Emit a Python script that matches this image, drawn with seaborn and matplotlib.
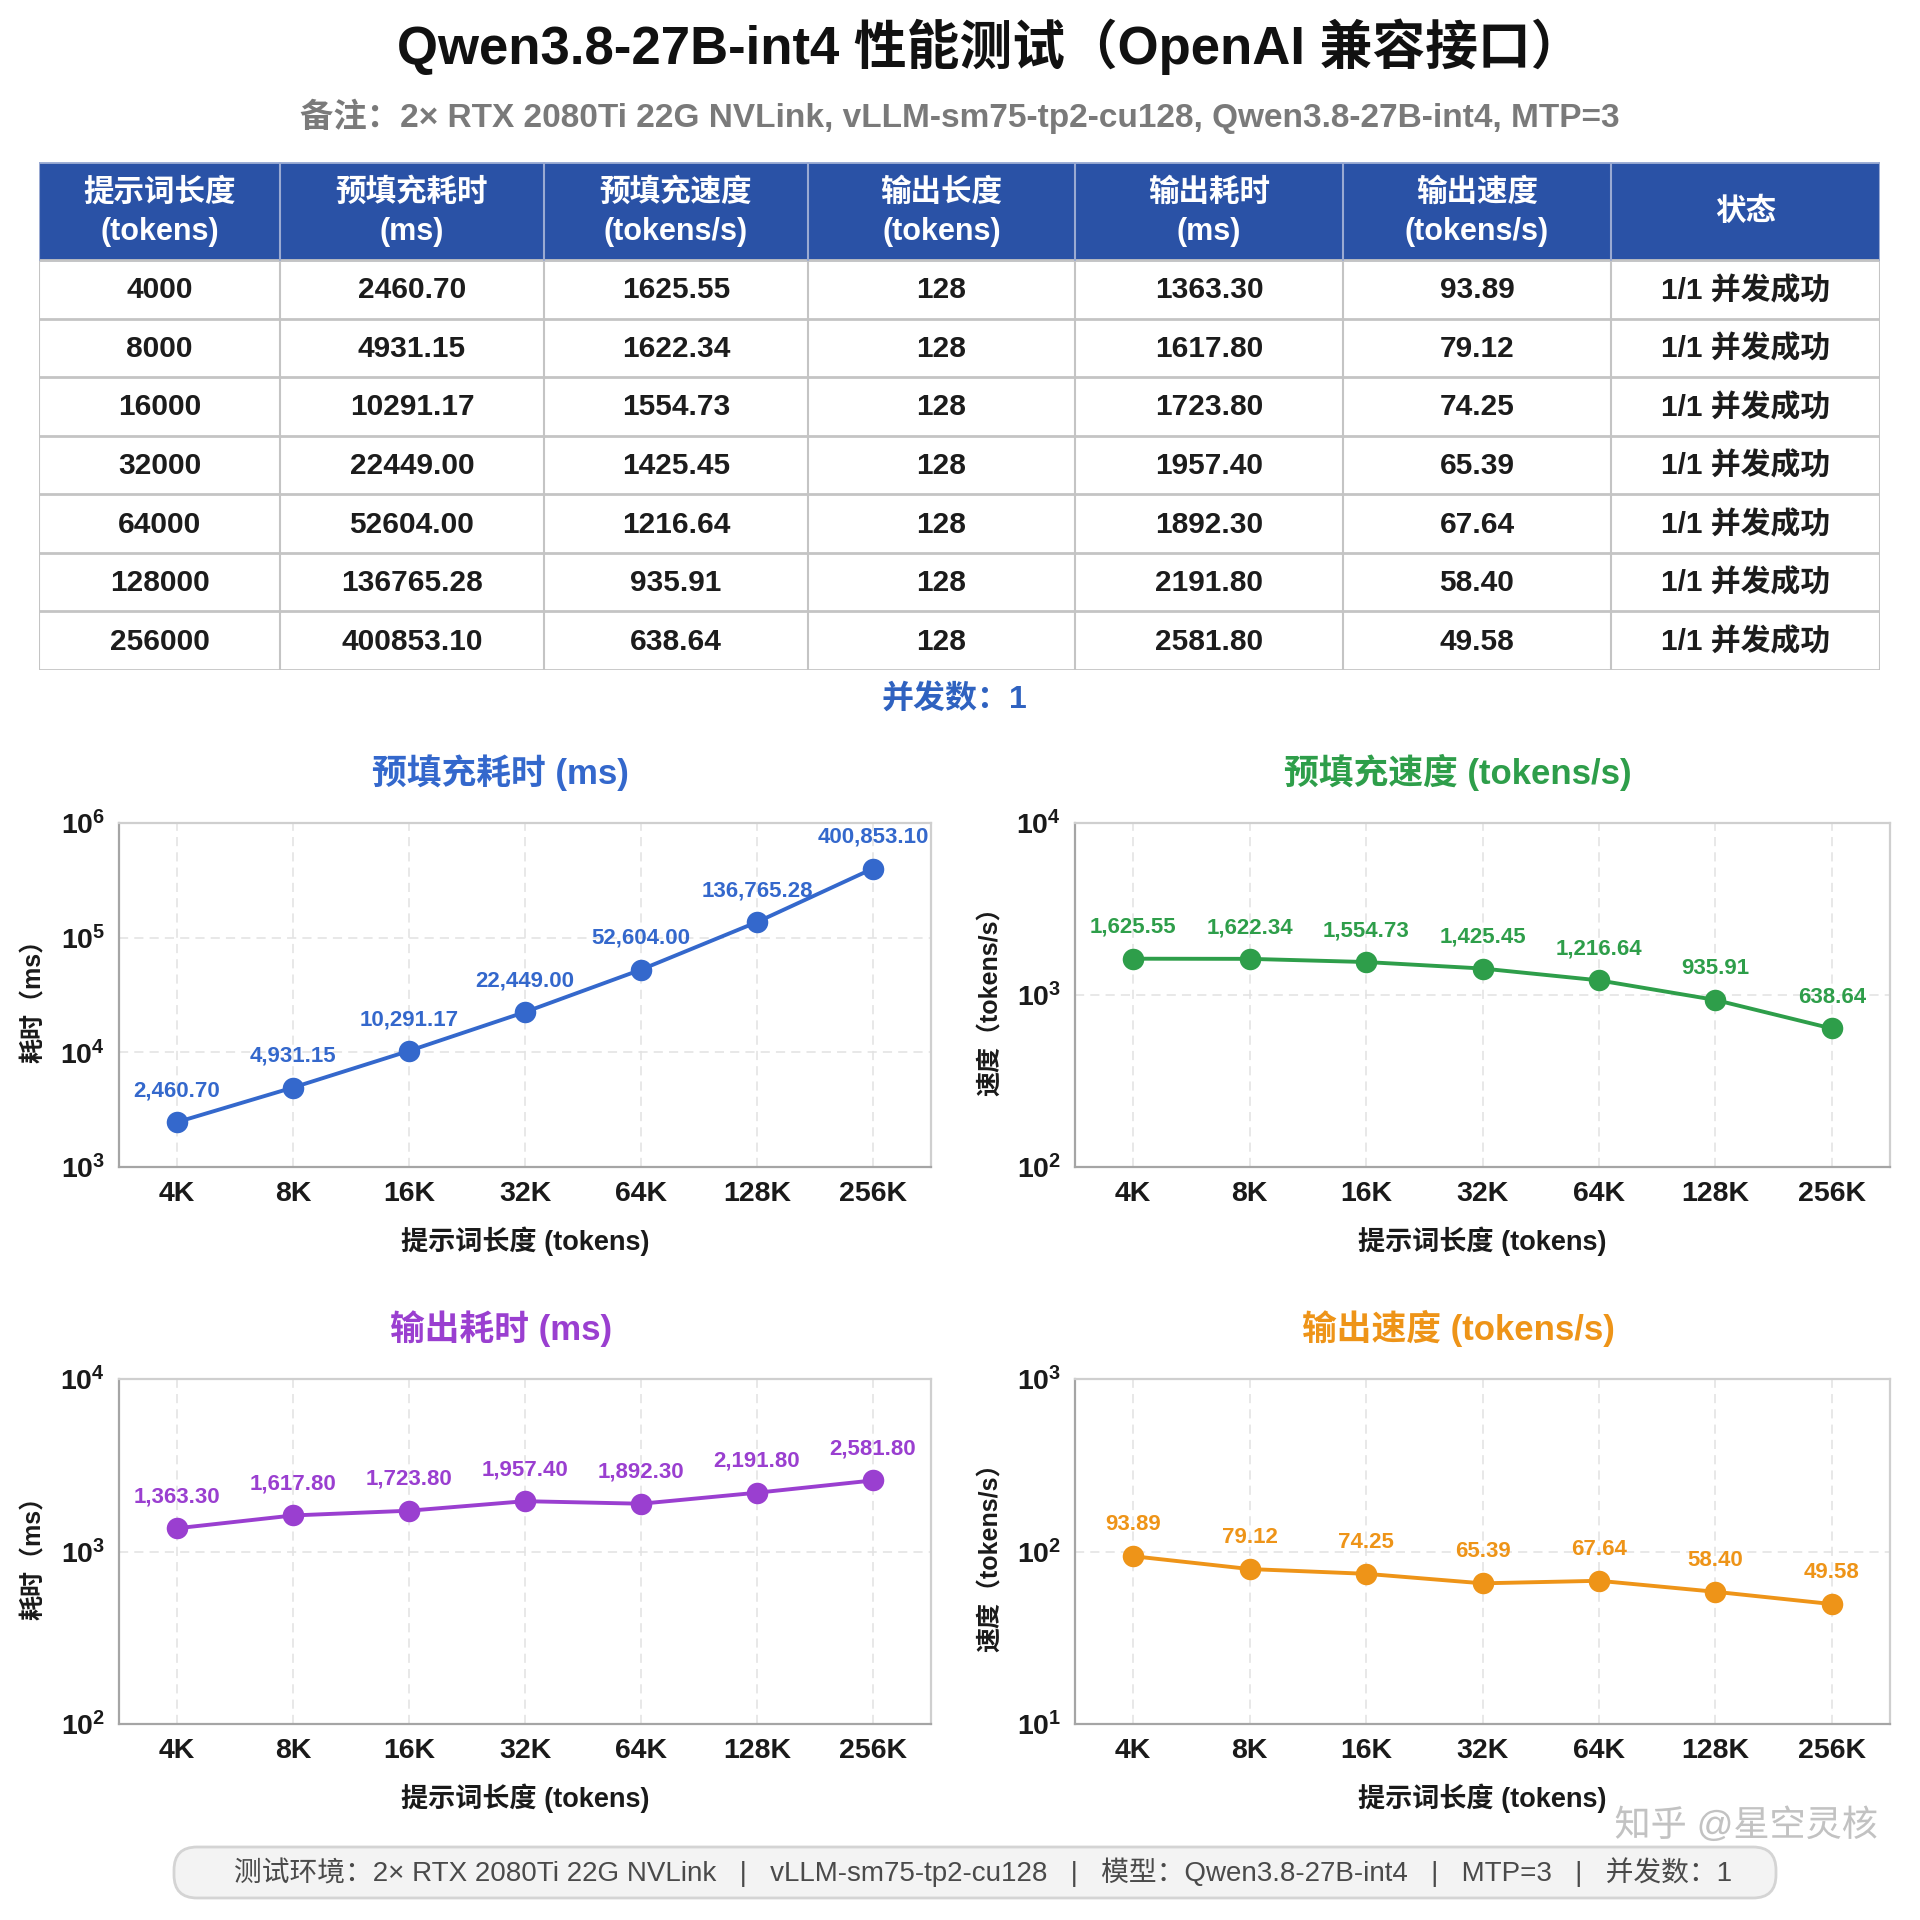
import matplotlib
matplotlib.use("Agg")
import pandas as pd
import matplotlib.pyplot as plt
import seaborn as sns
from matplotlib.ticker import LogLocator, NullLocator
from matplotlib.patches import Rectangle, FancyBboxPatch
import matplotlib.patheffects as pe

# ---- data ----
prompt_tokens = [4000, 8000, 16000, 32000, 64000, 128000, 256000]
tick_labels = ["4K", "8K", "16K", "32K", "64K", "128K", "256K"]
prefill_ms = [2460.70, 4931.15, 10291.17, 22449.00, 52604.00, 136765.28, 400853.10]
prefill_speed = [1625.55, 1622.34, 1554.73, 1425.45, 1216.64, 935.91, 638.64]
output_len = [128, 128, 128, 128, 128, 128, 128]
output_ms = [1363.30, 1617.80, 1723.80, 1957.40, 1892.30, 2191.80, 2581.80]
output_speed = [93.89, 79.12, 74.25, 65.39, 67.64, 58.40, 49.58]
status = ["1/1 并发成功"] * 7
headers = ["提示词长度\n(tokens)", "预填充耗时\n(ms)", "预填充速度\n(tokens/s)",
           "输出长度\n(tokens)", "输出耗时\n(ms)", "输出速度\n(tokens/s)", "状态"]

sns.set_style("white")
plt.rcParams["font.family"] = ["Liberation Sans", "Noto Sans CJK SC", "DejaVu Sans"]
plt.rcParams["axes.unicode_minus"] = False

W = H = 1920
fig = plt.figure(figsize=(19.2, 19.2), dpi=100, facecolor="white")


def px_axes(l, t, r, b):
    """axes from pixel box (top-left origin)"""
    return fig.add_axes([l / W, 1 - b / H, (r - l) / W, (b - t) / H])


# ---- titles ----
fig.text(990 / W, 1 - 47 / H, "Qwen3.8-27B-int4 性能测试（OpenAI 兼容接口）",
         ha="center", va="center", fontsize=38, fontweight="bold", color="#111111")
fig.text(0.5, 1 - 116 / H,
         "备注：2× RTX 2080Ti 22G NVLink, vLLM-sm75-tp2-cu128, Qwen3.8-27B-int4, MTP=3",
         ha="center", va="center", fontsize=24, fontweight="bold", color="#7a7a7a")

# ---- table ----
col_w = [241, 264, 264, 267, 268, 268, 269]
head_h, row_h = 98, 58.6
tab = px_axes(39, 162, 1880, 670)
tab.set_xlim(0, sum(col_w))
tab.set_ylim(head_h + row_h * 7, 0)
tab.axis("off")
edges = [sum(col_w[:i]) for i in range(len(col_w) + 1)]
tab.add_patch(Rectangle((0, 0), sum(col_w), head_h, color="#2a52a6", zorder=1))
rows = list(zip(prompt_tokens, prefill_ms, prefill_speed, output_len, output_ms, output_speed, status))
for j, h in enumerate(headers):
    cx = (edges[j] + edges[j + 1]) / 2
    tab.text(cx, head_h / 2 + 1, h, ha="center", va="center", color="white",
             fontsize=22, fontweight="bold", linespacing=1.4, zorder=3)
for i, r in enumerate(rows):
    cy = head_h + row_h * (i + 0.5)
    cells = [str(r[0]), f"{r[1]:.2f}", f"{r[2]:.2f}", str(r[3]), f"{r[4]:.2f}", f"{r[5]:.2f}", r[6]]
    for j, c in enumerate(cells):
        cx = (edges[j] + edges[j + 1]) / 2
        tab.text(cx, cy + 1, c, ha="center", va="center", fontsize=21.5,
                 fontweight="bold", color="#1c1c1c", zorder=3)
for k in range(8):
    y = head_h + row_h * k
    tab.plot([0, sum(col_w)], [y, y], color="#c4c4c4", lw=2, zorder=2)
tab.plot([0, sum(col_w)], [0, 0], color="#9fb0d6", lw=2, zorder=2)
for x in edges:
    tab.plot([x, x], [head_h, head_h + row_h * 7], color="#c4c4c4", lw=1.5, zorder=2)
    tab.plot([x, x], [0, head_h], color="#9aaad2", lw=1.5, zorder=2)

fig.text(954 / W, 1 - 699 / H, "并发数：1", ha="center", va="center",
         fontsize=23, fontweight="bold", color="#2f62c0")


# ---- line panels ----
def panel(ax, values, color, title, ylabel, ylim):
    df = pd.DataFrame({"prompt": tick_labels, "value": values})
    sns.lineplot(data=df, x="prompt", y="value", ax=ax, color=color, lw=2.8,
                 marker="o", markersize=15.5, markeredgewidth=0, sort=False, zorder=3)
    ax.set_yscale("log")
    ax.set_ylim(*ylim)
    ax.set_xlim(-0.5, 6.5)
    ax.yaxis.set_major_locator(LogLocator(base=10, numticks=10))
    ax.yaxis.set_minor_locator(NullLocator())
    ax.grid(True, which="major", ls=(0, (6, 4)), color="#e2e2e2", lw=1.1)
    for s in ax.spines.values():
        s.set_color("#cfcfcf")
        s.set_linewidth(1.6)
    ax.spines["left"].set_color("#a5a5a5")
    ax.spines["bottom"].set_color("#a5a5a5")
    ax.tick_params(length=0, labelsize=20.5, pad=10, colors="#1a1a1a")
    for lab in ax.get_xticklabels() + ax.get_yticklabels():
        lab.set_fontweight("bold")
    ax.set_title(title, color=color, fontsize=25, fontweight="bold", pad=28, x=0.47)
    ax.set_xlabel("提示词长度 (tokens)", fontsize=19.5, fontweight="bold", labelpad=14, color="#1a1a1a")
    ax.set_ylabel(ylabel, fontsize=18, fontweight="bold", labelpad=10, color="#1a1a1a")
    for i, v in enumerate(values):
        ax.annotate(f"{v:,.2f}", (i, v), xytext=(0, 15), textcoords="offset points",
                    ha="center", va="bottom", color=color, fontsize=16, fontweight="bold")


panel(px_axes(119, 823, 931, 1167), prefill_ms, "#3468cc", "预填充耗时 (ms)", "耗时（ms）", (1e3, 1e6))
panel(px_axes(1075, 823, 1890, 1167), prefill_speed, "#2e9e4a", "预填充速度 (tokens/s)", "速度（tokens/s）", (1e2, 1e4))
panel(px_axes(119, 1379, 931, 1724), output_ms, "#9a3fd0", "输出耗时 (ms)", "耗时（ms）", (1e2, 1e4))
panel(px_axes(1075, 1379, 1890, 1724), output_speed, "#ee9418", "输出速度 (tokens/s)", "速度（tokens/s）", (1e1, 1e3))

# ---- footer ----
box = FancyBboxPatch((174 / W, 1 - 1898 / H), (1776 - 174) / W, 51 / H,
                     boxstyle="round,pad=0,rounding_size=0.012", transform=fig.transFigure,
                     fc="#f3f3f3", ec="#d4d4d4", lw=2)
fig.add_artist(box)
fig.text(983 / W, 1 - 1872 / H,
         "测试环境：2× RTX 2080Ti 22G NVLink   |   vLLM-sm75-tp2-cu128   |   模型：Qwen3.8-27B-int4   |   MTP=3   |   并发数：1",
         ha="center", va="center", fontsize=20, color="#4a4a4a")
# watermark, kept clear of the x label and footer text
fig.text(1878 / W, 1 - 1826 / H, "知乎 @星空灵核", ha="right", va="center",
         fontsize=26, color="#a8a8a8", alpha=0.6,
         path_effects=[pe.withStroke(linewidth=3, foreground="white")])

fig.savefig("out.png", dpi=100, facecolor="white")
